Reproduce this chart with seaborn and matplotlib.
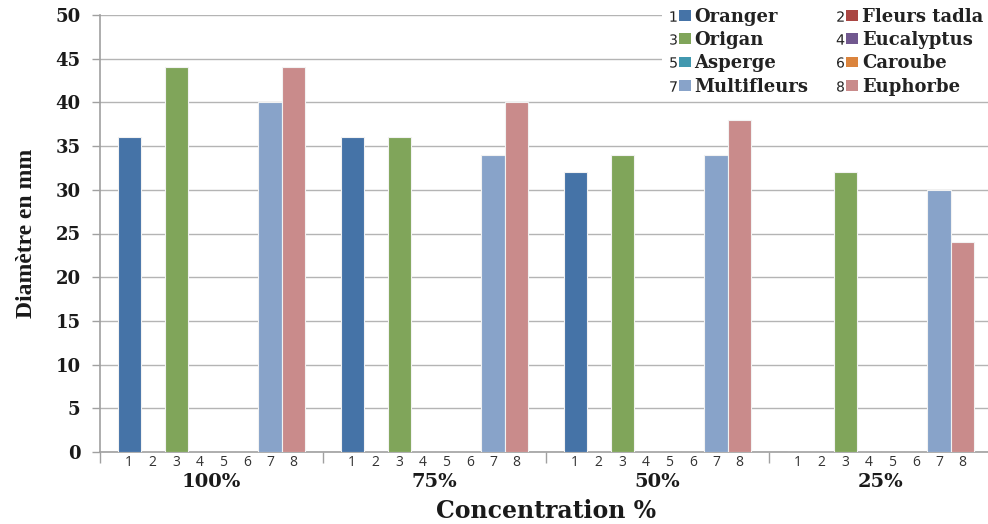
import matplotlib
matplotlib.use("Agg")
import matplotlib.pyplot as plt
from matplotlib.lines import Line2D
from matplotlib.patches import Patch
from matplotlib.legend_handler import HandlerTuple
import seaborn as sns
import pandas as pd

# Data: inhibition zone diameters (mm) per concentration and honey type
concentrations = ["100%", "75%", "50%", "25%"]
plants = ["Oranger", "Fleurs tadla", "Origan", "Eucalyptus",
          "Asperge", "Caroube", "Multifleurs", "Euphorbe"]
oranger = [36, 36, 32, 0]
fleurs_tadla = [0, 0, 0, 0]
origan = [44, 36, 34, 32]
eucalyptus = [0, 0, 0, 0]
asperge = [0, 0, 0, 0]
caroube = [0, 0, 0, 0]
multifleurs = [40, 34, 34, 30]
euphorbe = [44, 40, 38, 24]
series = [oranger, fleurs_tadla, origan, eucalyptus,
          asperge, caroube, multifleurs, euphorbe]
colors = ["#4573a7", "#aa4643", "#80a55a", "#71588f",
          "#4198af", "#db843d", "#88a3c9", "#c98b8b"]
yticks = [0, 5, 10, 15, 20, 25, 30, 35, 40, 45, 50]

rows = []
for plant, vals in zip(plants, series):
    for conc, v in zip(concentrations, vals):
        rows.append({"Concentration": conc, "Miel": plant, "Diametre": v})
df = pd.DataFrame(rows)

sns.set_theme(style="white")
wide_serif = ["DejaVu Serif"]
narrow_serif = ["Liberation Serif", "DejaVu Serif"]
plt.rcParams["font.family"] = wide_serif

fig = plt.figure(figsize=(9.88, 5.24), dpi=100)
ax = fig.add_axes([100 / 988, 1 - 452 / 524, 892 / 988, (452 - 15) / 524])

group_width = 0.843
sns.barplot(data=df, x="Concentration", y="Diametre", hue="Miel",
            order=concentrations, hue_order=plants, palette=colors,
            saturation=1, width=group_width, gap=0, dodge=True,
            edgecolor="#f2f2f2", linewidth=0.8, legend=False, ax=ax,
            zorder=3)

ax.set_ylim(0, 50)
ax.set_xlim(-0.5, len(concentrations) - 0.5)
ax.set_yticks(yticks)
ax.set_yticklabels([str(t) for t in yticks], fontsize=13, fontweight="bold",
                   color="#1a1a1a")
ax.yaxis.grid(True, color="#b4b4b4", linewidth=1.0, zorder=0)
ax.set_axisbelow(True)
ax.tick_params(axis="y", which="major", left=True, length=6, width=1,
               color="#a0a0a0", pad=8)

# Group boundaries as major ticks, series numbers as minor tick labels
ax.set_xticks([i - 0.5 for i in range(len(concentrations) + 1)])
ax.set_xticklabels([])
step = group_width / len(plants)
minor_pos = []
minor_lab = []
for g in range(len(concentrations)):
    for j in range(len(plants)):
        minor_pos.append(g - group_width / 2 + (j + 0.5) * step)
        minor_lab.append(str(j + 1))
ax.set_xticks(minor_pos, minor=True)
ax.set_xticklabels(minor_lab, minor=True, fontsize=10,
                   family=["Open Sans", "DejaVu Sans"], color="#333333")
ax.tick_params(axis="x", which="major", bottom=True, length=8, width=1,
               color="#a0a0a0", direction="out")
ax.tick_params(axis="x", which="minor", bottom=False, length=0, pad=2)

for g, conc in enumerate(concentrations):
    ax.text(g, -0.069, conc, transform=ax.get_xaxis_transform(),
            ha="center", va="center", fontsize=14, fontweight="bold",
            color="#1a1a1a")

ax.set_xlabel("")
ax.text(0.5 * (len(concentrations) - 1), -0.136, "Concentration %",
        transform=ax.get_xaxis_transform(), ha="center", va="center",
        fontsize=17, fontweight="bold", color="#1a1a1a")
ax.set_ylabel("Diamètre en mm", fontsize=17, fontweight="bold",
              family=narrow_serif, color="#1a1a1a", labelpad=13)

for side in ["top", "right"]:
    ax.spines[side].set_visible(False)
for side in ["left", "bottom"]:
    ax.spines[side].set_color("#a0a0a0")
    ax.spines[side].set_linewidth(1.2)

# Legend: number followed by colour swatch
handles = []
for j, c in enumerate(colors):
    num = Line2D([], [], linestyle="none", marker=r"$\mathsf{%d}$" % (j + 1),
                 markersize=7.5, color="#222222", markeredgewidth=0)
    sw = Patch(facecolor=c, edgecolor="none")
    handles.append((num, sw))
order = [0, 2, 4, 6, 1, 3, 5, 7]
leg = fig.legend([handles[i] for i in order], [plants[i] for i in order],
                 handler_map={tuple: HandlerTuple(ndivide=None, pad=0.0)},
                 ncol=2, loc="upper left",
                 bbox_to_anchor=(662 / 988, 1 - 3 / 524),
                 frameon=True, facecolor="white", edgecolor="none",
                 framealpha=1, fancybox=False,
                 prop={"family": wide_serif, "weight": "bold", "size": 13},
                 handlelength=1.35, handleheight=0.55, handletextpad=0.2,
                 columnspacing=1.4, labelspacing=0.3, borderpad=0.25,
                 borderaxespad=0)
for t in leg.get_texts():
    t.set_color("#222222")

fig.savefig("out.png", dpi=100)
